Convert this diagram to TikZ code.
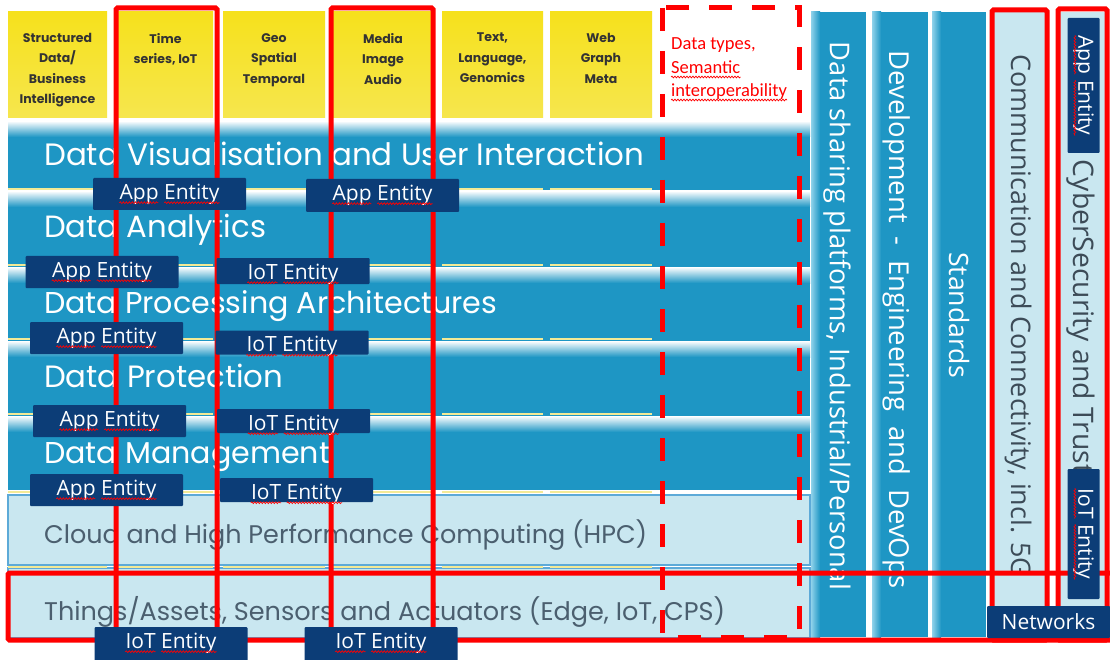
\documentclass[tikz,border=0pt]{standalone}
\usepackage{fontspec}
\usepackage{graphicx}
\usetikzlibrary{calc,decorations.pathmorphing}
\newfontfamily\layerfont{Poppins}
\newfontfamily\segfont{Open Sans}
\newfontfamily\calfont{Carlito}
\newcommand\entfont{\segfont\fontsize{21}{21}\selectfont}
\definecolor{bandblue}{HTML}{1E96C4}
\definecolor{colhl}{HTML}{8FD2EA}
\definecolor{paleblue}{HTML}{C9E7F0}
\definecolor{paleedge}{HTML}{5DAAD8}
\definecolor{navy}{HTML}{0C3D77}
\definecolor{tiletop}{HTML}{F6E11C}
\definecolor{tilebot}{HTML}{F6E64E}
\definecolor{segyellow}{HTML}{F3EA96}
\definecolor{slate}{HTML}{4B5F6F}
\definecolor{tiletext}{HTML}{333333}
\definecolor{hotred}{HTML}{FF0000}
\definecolor{darkslate}{HTML}{3C4B57}
% widths of the tag words, measured once in the tag font
\newlength\lenApp
\newlength\lenIoT
\newlength\lenEntity
\tikzset{
  tiletxt/.style={anchor=north, align=center, inner sep=0pt, text=tiletext,
    font=\layerfont\bfseries\fontsize{12.5}{20.5}\selectfont},
  layertxt/.style={inner sep=0pt, anchor=base west, text=white,
    font=\layerfont\fontsize{30}{30}\selectfont},
  vtxt/.style={rotate=-90, inner sep=0pt, font=\segfont\fontsize{21}{21}\selectfont},
  entbox/.style={fill=navy, inner sep=0pt, rounded corners=1pt},
  enttext/.style={text=white, inner sep=0pt, font=\entfont},
  redline/.style={draw=hotred, line width=5pt, rounded corners=1.5pt},
  reddash/.style={draw=hotred, line width=5pt, dash pattern=on 23pt off 20pt},
  palebox/.style={fill=paleblue, draw=paleedge, line width=1.2pt},
  spell/.style={draw=red, line width=0.7pt, decorate,
    decoration={snake, amplitude=0.9pt, segment length=3pt}},
  redtxt/.style={anchor=base west, inner sep=0pt, text=red,
    font=\calfont\fontsize{18.5}{18.5}\selectfont},
}
% wavy spell-check mark under a stretch of text, starting at #1,
% running towards #2 for the length #3
\newcommand\spellseg[3]{%
  \coordinate (sqa) at ($(#1)!3.5pt!-90:(#2)$);
  \coordinate (sqm) at ($(#1)!#3!(#2)$);
  \coordinate (sqb) at ($(sqm)!3.5pt!90:(#1)$);
  \draw[spell] (sqa) -- (sqb);
}
% navy entity tag: name, centre, width, height, rotation, two words;
% the words sit lower in the slimmer tags
\newcommand\entitytag[7]{%
  \pgfmathsetmacro\tagdrop{(32-#4)/2}%
  \node[entbox, rotate=#5, minimum width=#3, minimum height=#4] (#1) at (#2) {};
  \node[enttext, rotate=#5] (#1t) at ([yshift=-\tagdrop pt]#1.center) {#6 #7};
  \edef\firstlen{\the\csname len#6\endcsname}%
  \edef\secondlen{\the\csname len#7\endcsname}%
  \coordinate (#1s) at ($(#1t.base east)!\secondlen!(#1t.base west)$);
  \spellseg{#1t.base west}{#1t.base east}{\firstlen}
  \spellseg{#1s}{#1t.base east}{\secondlen}
}
\begin{document}
\settowidth{\lenApp}{\entfont App}%
\settowidth{\lenIoT}{\entfont IoT}%
\settowidth{\lenEntity}{\entfont Entity}%
\begin{tikzpicture}[x=1pt,y=-1pt]
\useasboundingbox (0,0) rectangle (1110,660);
\fill[white] (0,0) rectangle (1110,660);

% data-type tiles
\foreach \xa/\xb in {8/107,118/213,223/325,333/433,442/543,550/652}
  \shade[top color=tiletop, bottom color=tilebot] (\xa,12) rectangle (\xb,118);
\node[tiletxt] (t1) at (57.5,33) {Structured\\Data/\\Business\\Intelligence};
\node[tiletxt] (t2) at (165.5,33) {Time\\series, IoT};
\node[tiletxt] (t3) at (274,33) {Geo\\Spatial\\Temporal};
\node[tiletxt] (t4) at (383,33) {Media\\Image\\Audio};
\node[tiletxt] (t5) at (492.5,33) {Text,\\Language,\\Genomics};
\node[tiletxt] (t6) at (601,33) {Web\\Graph\\Meta};

% horizontal layers
\foreach \ya/\yb in {120/190,190/266,266/340,340/415,415/490} {
  \fill[bandblue] (8,\ya) rectangle (810,\yb);
  \shade[top color=white, bottom color=bandblue] (8,\ya+1) rectangle (810,\ya+17);
}
\draw[palebox] (8,495) rectangle (810,565);
\draw[palebox] (8,568) rectangle (810,638);
\foreach \yy in {189,265,339,414,491.5,566.5}
  \foreach \xa/\xb in {8/107,118/213,223/325,333/433,442/543,550/652}
    \draw[segyellow, line width=2pt] (\xa,\yy) -- (\xb,\yy);

\node[layertxt] (l1) at (44,166) {\resizebox{600pt}{!}{Data Visualisation and User Interaction}};
\node[layertxt] (l2) at (44,238) {\resizebox{222pt}{!}{Data Analytics}};
\node[layertxt] (l3) at (44,313) {\resizebox{453pt}{!}{Data Processing Architectures}};
\node[layertxt] (l4) at (44,387) {\resizebox{239pt}{!}{Data Protection}};
\node[layertxt] (l5) at (44,463) {\resizebox{286pt}{!}{Data Management}};
\node[layertxt, text=slate] (l6) at (44,543) {\resizebox{603pt}{!}{Cloud and High Performance Computing (HPC)}};
\node[layertxt, text=slate] (l7) at (44,620) {\resizebox{681pt}{!}{Things/Assets, Sensors and Actuators (Edge, IoT, CPS)}};

% vertical pillars
\foreach \xa/\xb in {811/866,872/928,932/986} {
  \fill[bandblue] (\xa,12) rectangle (\xb,637);
  \shade[left color=colhl, right color=bandblue] (\xa,12) rectangle (\xa+9,637);
}
\fill[paleblue] (990,12) rectangle (1046,640);
\fill[paleblue] (1058,12) rectangle (1108,640);

\node[vtxt, text=white] (p1) at (837,316) {\resizebox{548pt}{!}{Data sharing platforms, Industrial/Personal}};
\node[vtxt, text=white] (p2) at (897,320) {\resizebox{538pt}{!}{Development \ - \ Engineering \ and \ DevOps}};
\node[vtxt, text=white] (p3) at (959,315) {\resizebox{126pt}{!}{Standards}};
\node[vtxt, text=darkslate] (p4) at (1018,316) {\resizebox{523pt}{!}{Communication and Connectivity, incl. 5G}};
\node[vtxt, text=darkslate] (p5) at (1081,317) {\resizebox{314pt}{!}{CyberSecurity and Trust}};

% highlight frames
\draw[redline] (116,8) rectangle (217,646);
\draw[redline] (331,8) rectangle (433,646);
\draw[redline] (8,573) rectangle (1116,640);
\draw[redline] (992,10) rectangle (1047,640);
\draw[redline] (1058,9) rectangle (1107,640);
\draw[reddash] (662,8) rectangle (799,637);

\node[redtxt] (dt1) at (671,50) {Data types,};
\node[redtxt] (dt2) at (671,74) {Semantic};
\node[redtxt] (dt3) at (671,97) {interoperability};
\draw[spell] ([yshift=-3pt]dt2.base west) -- ([yshift=-3pt]dt2.base east);
\draw[spell] ([yshift=-3pt]dt3.base west) -- ([yshift=-3pt]dt3.base east);

% entity tags
\entitytag{a1}{169.5,194}{153pt}{32pt}{0}{App}{Entity}
\entitytag{a2}{382.5,195.5}{153pt}{33pt}{0}{App}{Entity}
\entitytag{a3}{102,272}{153pt}{32pt}{0}{App}{Entity}
\entitytag{i1}{293,271}{153pt}{26pt}{0}{IoT}{Entity}
\entitytag{a4}{106.5,338}{153pt}{32pt}{0}{App}{Entity}
\entitytag{i2}{292,342.5}{153pt}{24pt}{0}{IoT}{Entity}
\entitytag{a5}{109.5,421}{153pt}{32pt}{0}{App}{Entity}
\entitytag{i3}{293.5,421}{153pt}{24pt}{0}{IoT}{Entity}
\entitytag{a6}{106.5,490}{153pt}{32pt}{0}{App}{Entity}
\entitytag{i4}{296.5,490}{153pt}{24pt}{0}{IoT}{Entity}
\entitytag{i5}{171,645}{153pt}{36pt}{0}{IoT}{Entity}
\entitytag{i6}{381,645}{153pt}{36pt}{0}{IoT}{Entity}
\entitytag{va}{1083.5,85.5}{135pt}{32pt}{-90}{App}{Entity}
\entitytag{vi}{1083.5,534}{130pt}{32pt}{-90}{IoT}{Entity}
\node[entbox, minimum width=123pt, minimum height=32pt, text=white, font=\entfont] (net) at (1048.5,622) {Networks};
\end{tikzpicture}
\end{document}
